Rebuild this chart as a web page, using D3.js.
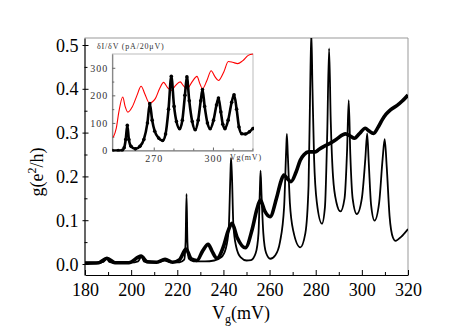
<!DOCTYPE html>
<html><head><meta charset="utf-8">
<script src="https://cdn.jsdelivr.net/npm/d3@7"></script>
<style>body{margin:0;background:#fff}svg{display:block}</style>
</head><body>
<script>
// Main chart data: gate voltage (mV) vs conductance g (e^2/h)
const thinCurve = [
[180,0.003],[185,0.003],[188,0.005],[189.5,0.012],[190.5,0.005],[193,0.003],[200,0.003],[203,0.006],[204.5,0.018],[205.5,0.006],[208,0.003],[212,0.004],[214.5,0.008],[217,0.004],[221,0.004],[223,0.01],[223.6,0.05],[224,0.16],[224.4,0.05],[225,0.012],[227,0.006],[232,0.006],[236,0.008],[239,0.015],[241,0.035],[242.3,0.08],[243,0.2],[243.3,0.242],[243.7,0.2],[244.3,0.09],[245.5,0.04],[247.5,0.015],[250,0.008],[252,0.009],[254,0.025],[255.2,0.07],[255.8,0.17],[256.1,0.213],[256.5,0.16],[257.3,0.07],[258.5,0.025],[260.3,0.012],[262.5,0.02],[264.5,0.05],[266.3,0.13],[267.2,0.26],[267.5,0.297],[267.9,0.25],[268.8,0.14],[270.3,0.075],[273.3,0.038],[275.5,0.07],[276.9,0.18],[277.6,0.4],[278.1,0.53],[278.6,0.4],[279.3,0.24],[280.5,0.14],[282.7,0.092],[284,0.13],[285,0.3],[285.8,0.492],[286.5,0.33],[287.5,0.2],[289,0.14],[290.7,0.12],[292.5,0.15],[293.6,0.26],[294.3,0.374],[295,0.25],[296,0.15],[297.8,0.114],[300,0.15],[301.5,0.24],[302.3,0.298],[303,0.23],[304,0.135],[305.5,0.099],[307.5,0.14],[309,0.24],[309.9,0.285],[310.8,0.22],[312,0.11],[313.5,0.06],[314.6,0.053],[317,0.062],[320,0.08]
];
const thickCurve = [
[180,0.002],[186,0.003],[189.5,0.013],[193,0.003],[199,0.003],[204.3,0.018],[207,0.005],[211,0.004],[214.7,0.011],[218,0.004],[221,0.01],[223.8,0.034],[226,0.012],[228.5,0.008],[231,0.03],[233.4,0.045],[235,0.03],[237.2,0.013],[240,0.04],[242,0.075],[243.7,0.093],[246,0.06],[249.5,0.037],[252.5,0.08],[254.5,0.125],[256,0.146],[258,0.12],[260.2,0.108],[263,0.15],[265,0.19],[266.2,0.203],[268,0.193],[269.3,0.188],[271.5,0.21],[273.3,0.237],[275,0.25],[276.9,0.256],[279.8,0.256],[281.5,0.262],[283.4,0.268],[286.4,0.276],[289,0.285],[292.9,0.297],[295,0.292],[296.8,0.287],[299,0.298],[301.5,0.31],[303,0.304],[305.1,0.298],[307,0.312],[308.8,0.329],[310.5,0.342],[312.4,0.352],[315.3,0.362],[317.5,0.372],[320,0.386]
];
const xTicks = [180,200,220,240,260,280,300,320];
const yTicks = [0.0,0.1,0.2,0.3,0.4,0.5];

// Inset data: dI/dV (pA/20uV) vs Vg
const insetBlack = [
[249,0],[252,0],[254,1],[255,10],[255.8,40],[256.6,91],[257.4,40],[258.5,15],[260.7,6],[263,15],[265,40],[266.8,100],[268,170],[269.2,110],[270.5,70],[272.5,45],[274.5,36],[276,60],[277.5,150],[278.9,269],[280.3,160],[281.5,105],[283.1,79],[284.5,110],[285.8,200],[286.8,267],[288,180],[289.5,105],[291,75],[292.5,110],[293.8,180],[294.7,221],[295.8,160],[297.2,100],[298.6,79],[300.3,110],[301.8,165],[302.8,190],[304,140],[305,95],[306.1,79],[307.7,110],[309.5,175],[310.7,202],[312,150],[313.2,85],[314.6,61],[316.5,60],[318.5,68],[320.3,80]
];
const insetRed = [
[249.5,48],[251,80],[252.3,139],[254.3,194],[255.5,160],[256.9,139],[259.1,158],[261.5,200],[263.6,233],[265.5,205],[267.8,172],[270.8,188],[273,225],[275,247],[277,228],[278.9,218],[281,235],[283.4,249],[285,235],[286.8,224],[289.5,250],[291.9,269],[293.5,240],[294.7,224],[297,255],[299.1,289],[301,268],[302.8,254],[305.5,285],[307.8,323],[310,320],[312.5,315],[315,325],[317.9,345],[320.3,350]
];
const insetXTicks = [270,300];
const insetYTicks = [0,100,200,300];

const W=474,H=331;
const svg=d3.select("body").append("svg").attr("width",W).attr("height",H);
const serif="'Liberation Serif','DejaVu Serif',serif";

const L=84.5,R=408,T=38,B=275;
const x=d3.scaleLinear().domain([180,320]).range([85,408]);
const y=d3.scaleLinear().domain([-0.0251,0.516]).range([B,T]);

svg.append("defs").append("clipPath").attr("id","mc").append("rect")
  .attr("x",L).attr("y",T).attr("width",R-L).attr("height",B-T);

// frame (top/right gray)
svg.append("line").attr("x1",L).attr("x2",R).attr("y1",T).attr("y2",T).attr("stroke","#999").attr("stroke-width",1);
svg.append("line").attr("x1",R).attr("x2",R).attr("y1",T).attr("y2",B).attr("stroke","#999").attr("stroke-width",1);

const line=d3.line().x(d=>x(d[0])).y(d=>y(d[1])).curve(d3.curveMonotoneX);
const g=svg.append("g").attr("clip-path","url(#mc)");
g.append("path").datum(thinCurve).attr("d",line).attr("fill","none").attr("stroke","#000").attr("stroke-width",1.8).attr("stroke-linejoin","round");
g.append("path").datum(thickCurve).attr("d",line).attr("fill","none").attr("stroke","#000").attr("stroke-width",3.6).attr("stroke-linejoin","round");

// axes
const xAx=svg.append("g").attr("transform",`translate(0,${B})`)
  .call(d3.axisBottom(x).tickValues(d3.range(180,321,10)).tickSize(0).tickFormat(""));
xAx.select(".domain").attr("stroke","#000").attr("stroke-width",1.2);
xAx.selectAll(".tick line").attr("y2",d=>d%20===0?-5:-3).attr("stroke","#000");
xAx.selectAll(".tick").filter(d=>xTicks.includes(d)).append("text")
  .attr("y",21).attr("fill","#000").attr("font-family",serif).attr("font-size",18).attr("text-anchor","middle")
  .text(d=>d);

const yAx=svg.append("g").attr("transform",`translate(${L},0)`)
  .call(d3.axisLeft(y).tickValues(d3.range(0,0.51,0.05).map(v=>+v.toFixed(2))).tickSize(0).tickFormat(""));
yAx.select(".domain").attr("stroke","#000").attr("stroke-width",1.2);
yAx.selectAll(".tick line").attr("x1",d=>Math.round(d*100)%10===0?-2:0).attr("x2",d=>Math.round(d*100)%10===0?4:3).attr("stroke","#000");
yAx.selectAll(".tick").filter(d=>yTicks.some(t=>Math.abs(t-d)<1e-6)).append("text")
  .attr("x",-6).attr("dy","0.34em").attr("fill","#000").attr("font-family",serif).attr("font-size",18).attr("text-anchor","end")
  .text(d=>d3.format(".1f")(d));

// axis titles
const xt=svg.append("text").attr("x",241).attr("y",319).attr("text-anchor","middle")
  .attr("font-family",serif).attr("font-size",18).attr("fill","#000");
xt.append("tspan").text("V");
xt.append("tspan").attr("font-size",12).attr("dy",4).text("g");
xt.append("tspan").attr("dy",-4).text("(mV)");

const yt=svg.append("text").attr("transform","translate(43,172) rotate(-90)").attr("text-anchor","middle")
  .attr("font-family",serif).attr("font-size",18).attr("fill","#000");
yt.append("tspan").text("g(e");
yt.append("tspan").attr("font-size",12).attr("dy",-7).text("2");
yt.append("tspan").attr("dy",7).text("/h)");

// Inset
const iL=112.3,iR=253,iT=54,iB=150.5;
const xi=d3.scaleLinear().domain([249,320.3]).range([iL,iR]);
const yi=d3.scaleLinear().domain([0,350]).range([iB,iT]);
svg.append("rect").attr("x",iL).attr("y",iT).attr("width",iR-iL).attr("height",iB-iT).attr("fill","#fff").attr("stroke","#aaa").attr("stroke-width",0.8);
svg.append("defs").append("clipPath").attr("id","ic").append("rect")
  .attr("x",iL).attr("y",iT-1).attr("width",iR-iL+1).attr("height",iB-iT+2);

const ixAx=svg.append("g").attr("transform",`translate(0,${iB})`)
  .call(d3.axisBottom(xi).tickValues([260,270,280,290,300,310,320]).tickSize(0).tickFormat(""));
ixAx.select(".domain").attr("stroke","#666").attr("stroke-width",0.9);
ixAx.selectAll(".tick line").attr("y2",d=>insetXTicks.includes(d)?-3:-2).attr("stroke","#666");
ixAx.selectAll(".tick").filter(d=>insetXTicks.includes(d)).append("text")
  .attr("y",11).attr("fill","#333").attr("font-family",serif).attr("font-size",10).attr("letter-spacing",1).attr("text-anchor","middle")
  .text(d=>d);
const iyAx=svg.append("g").attr("transform",`translate(${iL},0)`)
  .call(d3.axisLeft(yi).tickValues([0,50,100,150,200,250,300]).tickSize(0).tickFormat(""));
iyAx.select(".domain").attr("stroke","#666").attr("stroke-width",0.9);
iyAx.selectAll(".tick line").attr("x2",d=>insetYTicks.includes(d)?3:2).attr("stroke","#666");
iyAx.selectAll(".tick").filter(d=>insetYTicks.includes(d)).append("text")
  .attr("x",-4).attr("dy","0.34em").attr("fill","#333").attr("font-family",serif).attr("font-size",10).attr("letter-spacing",1).attr("text-anchor","end")
  .text(d=>d);

const iline=d3.line().x(d=>xi(d[0])).y(d=>yi(d[1])).curve(d3.curveMonotoneX);
const ig=svg.append("g").attr("clip-path","url(#ic)");
ig.append("path").datum(insetRed).attr("d",iline).attr("fill","none").attr("stroke","#f00").attr("stroke-width",1.1);
ig.append("path").datum(insetBlack).attr("d",iline).attr("fill","none").attr("stroke","#000").attr("stroke-width",2.6);
ig.selectAll("circle").data(insetBlack).join("circle")
  .attr("cx",d=>xi(d[0])).attr("cy",d=>yi(d[1])).attr("r",1.8).attr("fill","#000");

svg.append("text").attr("x",97).attr("y",49).attr("font-family",serif).attr("font-size",8).attr("letter-spacing",0.8).attr("fill","#333")
  .text("δI/δV (pA/20μV)");
svg.append("text").attr("x",230).attr("y",160).attr("font-family",serif).attr("font-size",8).attr("letter-spacing",0.8).attr("fill","#333")
  .text("Vg(mV)");
</script>
</body></html>
